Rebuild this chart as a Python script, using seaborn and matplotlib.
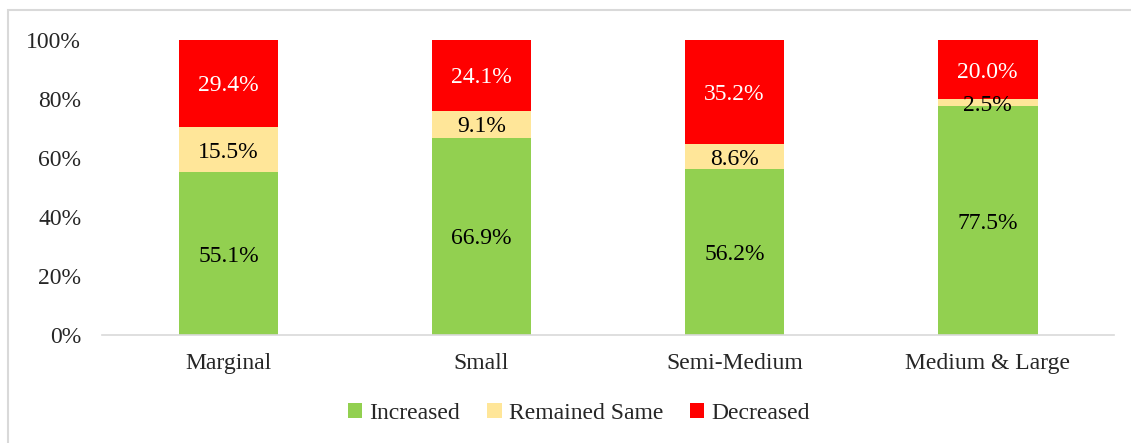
import matplotlib
matplotlib.use("Agg")
import matplotlib.pyplot as plt
import seaborn as sns
import pandas as pd
from matplotlib.patches import Rectangle, Patch

# Data
categories = ["Marginal", "Small", "Semi-Medium", "Medium & Large"]
increased = [55.1, 66.9, 56.2, 77.5]
remained_same = [15.5, 9.1, 8.6, 2.5]
decreased = [29.4, 24.1, 35.2, 20.0]
series_names = ["Increased", "Remained Same", "Decreased"]
colors = ["#92D050", "#FFE699", "#FF0000"]

sns.set_style("white")
plt.rcParams["font.family"] = ["Liberation Serif", "DejaVu Serif"]

df = pd.DataFrame({
    "category": categories,
    "inc": increased,
    "same": remained_same,
    "dec": decreased,
})
df["top_same"] = df["inc"] + df["same"]
df["top_dec"] = df["top_same"] + df["dec"]

fig = plt.figure(figsize=(11.31, 4.43), dpi=100)
ax = fig.add_axes([0.0902, 0.2438, 0.8948, 0.6659])

# stacked bars: draw cumulative totals from back to front
width = 0.395
for col, c in zip(["top_dec", "top_same", "inc"], colors[::-1]):
    sns.barplot(data=df, x="category", y=col, color=c, width=width,
                saturation=1, linewidth=0, edgecolor="none", ax=ax)

fs = 17
# segment labels
for i, row in df.iterrows():
    ax.text(i, row["inc"] / 2, f"{row['inc']:.1f}%", ha="center",
            va="center_baseline", fontsize=fs, color="black")
    ax.text(i, row["inc"] + row["same"] / 2, f"{row['same']:.1f}%", ha="center",
            va="center_baseline", fontsize=fs, color="black")
    ax.text(i, row["top_same"] + row["dec"] / 2, f"{row['dec']:.1f}%", ha="center",
            va="center_baseline", fontsize=fs, color="white")

ax.set_xlim(-0.5, 3.5)
ax.set_ylim(0, 100)
ax.set_yticks([0, 20, 40, 60, 80, 100])
ax.set_yticklabels([f"{v}%" for v in [0, 20, 40, 60, 80, 100]])
ax.set_xlabel("")
ax.set_ylabel("")
ax.tick_params(axis="y", length=0, pad=15, labelsize=fs)
ax.tick_params(axis="x", length=0, pad=13, labelsize=fs)
for s in ["top", "right", "left"]:
    ax.spines[s].set_visible(False)
ax.spines["bottom"].set_color("#D9D9D9")
ax.spines["bottom"].set_linewidth(1.2)

handles = [Patch(facecolor=c, edgecolor="none") for c in colors]
fig.legend(handles, series_names, loc="center", bbox_to_anchor=(0.512, 0.066),
           ncol=3, frameon=False, fontsize=fs, handlelength=0.6, handleheight=0.6,
           handletextpad=0.3, columnspacing=1.15)

# chart frame
fig.patches.append(Rectangle((8 / 1131, -0.01), 1.2, 1 - 10 / 443 + 0.01,
                             transform=fig.transFigure, fill=False,
                             edgecolor="#D9D9D9", linewidth=1.5))

fig.savefig("out.png", dpi=100)
